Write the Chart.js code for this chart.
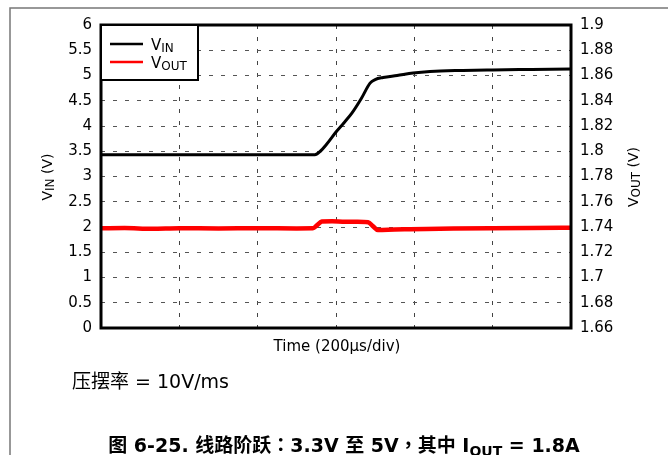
<!DOCTYPE html>
<html>
<head>
<meta charset="utf-8">
<script src="https://cdn.jsdelivr.net/npm/chart.js@4.4.1/dist/chart.umd.min.js"></script>
<style>
html,body{margin:0;padding:0;background:#fff;}
#wrap{position:absolute;left:0;top:0;width:668px;height:455px;}
</style>
</head>
<body>
<div id="wrap"><canvas id="c" width="668" height="455"></canvas></div>
<script>
// ---- data ----
const vinTime = [0, 100, 200, 300, 400, 500, 546, 560, 575, 600, 620, 641, 665, 687, 700, 720, 756, 797, 840, 924, 1000, 1100, 1200];
const vinValues = [3.43, 3.43, 3.43, 3.43, 3.43, 3.43, 3.43, 3.5, 3.63, 3.88, 4.06, 4.26, 4.55, 4.85, 4.92, 4.96, 5.0, 5.05, 5.08, 5.10, 5.11, 5.12, 5.13];
const voutTime = [0, 60, 130, 200, 300, 400, 500, 541, 552, 564, 590, 623, 655, 682, 695, 707, 750, 789, 900, 1000, 1100, 1200];
const voutValues = [1.739, 1.7392, 1.7386, 1.739, 1.7389, 1.739, 1.7389, 1.739, 1.7415, 1.7443, 1.7446, 1.7442, 1.7442, 1.7438, 1.7405, 1.7376, 1.738, 1.7382, 1.7388, 1.7391, 1.7393, 1.7394];
const xGridTicks = [0, 200, 400, 600, 800, 1000, 1200];
const leftTicks = [0, 0.5, 1, 1.5, 2, 2.5, 3, 3.5, 4, 4.5, 5, 5.5, 6];
const rightTicks = [1.66, 1.68, 1.7, 1.72, 1.74, 1.76, 1.78, 1.8, 1.82, 1.84, 1.86, 1.88, 1.9];
const seriesNames = [["V", "IN"], ["V", "OUT"]];
const leftTitle = ["V", "IN", " (V)"];
const rightTitle = ["V", "OUT", " (V)"];
const xTitle = "Time (200\u00b5s/div)";
const noteText = "压摆率 = 10V/ms";
const caption = ["图 6-25. 线路阶跃：3.3V 至 5V，其中 I", "OUT", " = 1.8A"];

const FONT = '"DejaVu Sans", "Noto Sans CJK SC", sans-serif';
const CJK = '"DejaVu Sans", "Noto Sans CJK SC", sans-serif';
const CJKT = '"DejaVu Sans", "Noto Sans CJK TC", sans-serif';

function drawRich(ctx, parts, x, y, align) {
  let w = 0;
  parts.forEach(p => { ctx.font = p.font; w += ctx.measureText(p.t).width; });
  let cx = align === 'center' ? x - w / 2 : (align === 'right' ? x - w : x);
  parts.forEach(p => {
    ctx.font = p.font;
    ctx.textAlign = 'left';
    ctx.fillText(p.t, cx, y + (p.dy || 0));
    cx += ctx.measureText(p.t).width;
  });
}

const decor = {
  id: 'decor',
  beforeDraw(chart) {
    const ctx = chart.ctx;
    ctx.save();
    ctx.fillStyle = '#fff';
    ctx.fillRect(0, 0, chart.width, chart.height);
    ctx.strokeStyle = '#777';
    ctx.lineWidth = 1.5;
    ctx.beginPath();
    ctx.moveTo(10, 455);
    ctx.lineTo(10, 8);
    ctx.lineTo(668, 8);
    ctx.stroke();
    ctx.restore();
  },
  afterDraw(chart) {
    const ctx = chart.ctx;
    const a = chart.chartArea;
    ctx.save();
    ctx.strokeStyle = '#000';
    ctx.lineWidth = 3;
    ctx.strokeRect(a.left, a.top, a.right - a.left, a.bottom - a.top);

    // legend
    const lx = a.left, ly = a.top, lw = 97, lh = 55;
    ctx.fillStyle = '#fff';
    ctx.fillRect(lx, ly, lw, lh);
    ctx.lineWidth = 2;
    ctx.strokeStyle = '#000';
    ctx.strokeRect(lx, ly, lw, lh);
    const cols = [chart.data.datasets[0].borderColor, chart.data.datasets[1].borderColor];
    const rows = [44, 62];
    ctx.fillStyle = '#000';
    ctx.textBaseline = 'alphabetic';
    for (let i = 0; i < 2; i++) {
      ctx.strokeStyle = cols[i];
      ctx.lineWidth = 2.5;
      ctx.beginPath();
      ctx.moveTo(110, rows[i]);
      ctx.lineTo(143, rows[i]);
      ctx.stroke();
      drawRich(ctx, [
        {t: seriesNames[i][0], font: '15px ' + FONT},
        {t: seriesNames[i][1], font: '12px ' + FONT, dy: 2}
      ], 151, rows[i] + 6, 'left');
    }

    // axis titles
    ctx.fillStyle = '#000';
    ctx.textBaseline = 'middle';
    ctx.save();
    ctx.translate(48, 177);
    ctx.rotate(-Math.PI / 2);
    drawRich(ctx, [
      {t: leftTitle[0], font: '14px ' + FONT},
      {t: leftTitle[1], font: '12px ' + FONT, dy: 3},
      {t: leftTitle[2], font: '14px ' + FONT}
    ], 0, 0, 'center');
    ctx.restore();
    ctx.save();
    ctx.translate(634, 177);
    ctx.rotate(-Math.PI / 2);
    drawRich(ctx, [
      {t: rightTitle[0], font: '14px ' + FONT},
      {t: rightTitle[1], font: '12px ' + FONT, dy: 3},
      {t: rightTitle[2], font: '14px ' + FONT}
    ], 0, 0, 'center');
    ctx.restore();

    // x title
    ctx.font = '15px ' + FONT;
    ctx.textAlign = 'center';
    ctx.fillText(xTitle, 337, 347);

    // note
    ctx.font = '19px ' + CJK;
    ctx.textAlign = 'left';
    ctx.fillText(noteText, 72, 383);

    // caption
    ctx.textBaseline = 'alphabetic';
    drawRich(ctx, [
      {t: caption[0], font: 'bold 19px ' + CJKT},
      {t: caption[1], font: 'bold 14px ' + CJKT, dy: 4},
      {t: caption[2], font: 'bold 19px ' + CJKT}
    ], 344, 452, 'center');
    ctx.restore();
  }
};

const gridDash = [4, 8];

new Chart(document.getElementById('c'), {
  type: 'line',
  data: {
    datasets: [
      {
        label: 'VIN',
        data: vinTime.map((t, i) => ({x: t, y: vinValues[i]})),
        borderColor: '#000',
        borderWidth: 3,
        pointRadius: 0,
        cubicInterpolationMode: 'monotone',
        yAxisID: 'yL'
      },
      {
        label: 'VOUT',
        data: voutTime.map((t, i) => ({x: t, y: voutValues[i]})),
        borderColor: '#ff0000',
        borderWidth: 4.5,
        pointRadius: 0,
        cubicInterpolationMode: 'monotone',
        yAxisID: 'yR'
      }
    ]
  },
  options: {
    responsive: false,
    animation: false,
    devicePixelRatio: 1,
    layout: {padding: {top: 25, bottom: 127, left: 0, right: 0}},
    plugins: {legend: {display: false}, tooltip: {enabled: false}, title: {display: false}},
    scales: {
      x: {
        type: 'linear',
        min: 0, max: 1200,
        afterBuildTicks: s => { s.ticks = xGridTicks.map(v => ({value: v})); },
        afterFit: s => { s.height = 0; s.paddingLeft = 0; s.paddingRight = 0; },
        ticks: {display: false},
        grid: {color: '#444', lineWidth: 1, drawTicks: false},
        border: {display: false, dash: gridDash}
      },
      yL: {
        type: 'linear',
        position: 'left',
        min: 0, max: 6,
        afterBuildTicks: s => { s.ticks = leftTicks.map(v => ({value: v})); },
        afterFit: s => { s.width = 101; s.paddingTop = 0; s.paddingBottom = 0; },
        ticks: {color: '#000', font: {family: FONT, size: 15}, padding: 9, callback: v => String(v)},
        grid: {color: '#555', lineWidth: 1, drawTicks: false},
        border: {display: false, dash: gridDash}
      },
      yR: {
        type: 'linear',
        position: 'right',
        min: 1.66, max: 1.9,
        afterBuildTicks: s => { s.ticks = rightTicks.map(v => ({value: v})); },
        afterFit: s => { s.width = 97; s.paddingTop = 0; s.paddingBottom = 0; },
        ticks: {color: '#000', font: {family: FONT, size: 15}, padding: 9, callback: v => String(parseFloat(v.toFixed(2)))},
        grid: {display: false, drawTicks: false},
        border: {display: false}
      }
    }
  },
  plugins: [decor]
});
</script>
</body>
</html>
